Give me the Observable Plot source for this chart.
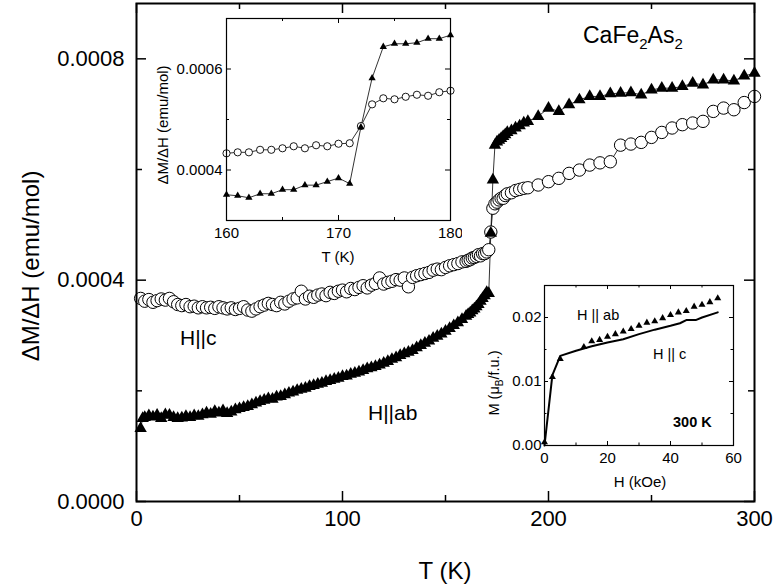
<!DOCTYPE html>
<html><head><meta charset="utf-8">
<script src="https://cdn.jsdelivr.net/npm/d3@7"></script>
<script src="https://cdn.jsdelivr.net/npm/@observablehq/plot@0.6"></script>
<style>body{margin:0;background:white} #chart{position:relative;width:776px;height:586px;overflow:hidden} #chart > svg{position:absolute;max-width:none}</style>
</head><body><div id="chart"></div>
<script>
// ---- Main panel data: [T (K), ΔM/ΔH in units of 1e-4 emu/mol] ----
const mainHc = [
[2,3.67],[4,3.62],[6,3.65],[8,3.60],[10,3.63],[12,3.66],[14,3.64],[16,3.67],[18,3.61],[20,3.56],
[22,3.54],[24,3.56],[26,3.52],[28,3.53],[30,3.50],[32,3.52],[34,3.50],[36,3.51],[38,3.49],[40,3.52],
[42,3.50],[44,3.48],[46,3.50],[48,3.47],[50,3.49],[52,3.52],[54,3.46],[56,3.44],[58,3.48],[60,3.52],
[62,3.55],[64,3.58],[66,3.56],[68,3.54],[70,3.60],[72,3.57],[74,3.62],[76,3.66],[78,3.68],[80,3.80],
[82,3.66],[84,3.71],[86,3.69],[88,3.73],[90,3.75],[92,3.72],[94,3.78],[96,3.76],[98,3.80],[100,3.82],
[102,3.79],[104,3.85],[106,3.83],[108,3.87],[110,3.90],[112,3.86],[114,3.91],[116,3.94],[118,4.04],[120,3.93],
[122,3.96],[124,3.98],[126,4.01],[128,4.00],[130,4.04],[132,3.88],[134,4.05],[136,4.08],[138,4.10],[140,4.12],
[142,4.14],[144,4.18],[146,4.20],[148,4.19],[150,4.23],[152,4.26],[154,4.28],[156,4.30],[158,4.33],[160,4.34],
[161,4.36],[162,4.37],[163,4.40],[164,4.41],[165,4.43],[166,4.46],[167,4.44],[168,4.48],[169,4.48],[170,4.51],
[171,4.55],[172,4.87],[173,5.30],[174,5.38],[175,5.41],[176,5.45],[177,5.48],[178,5.48],[179,5.53],[180,5.56],
[182,5.58],[184,5.62],[186,5.64],[188,5.66],[190,5.67],[195,5.72],[200,5.78],[205,5.84],[210,5.93],[215,5.99],
[220,6.08],[225,6.12],[230,6.14],[235,6.44],[240,6.46],[245,6.49],[250,6.58],[255,6.67],[260,6.75],[265,6.81],
[270,6.84],[275,6.87],[280,7.05],[285,7.11],[290,7.08],[295,7.21],[300,7.32]
];
const mainHab = [
[2,1.32],[3,1.50],[4,1.52],[6,1.55],[8,1.53],[10,1.56],[12,1.50],[14,1.57],[16,1.56],[18,1.52],
[20,1.50],[22,1.51],[24,1.54],[26,1.52],[28,1.55],[30,1.54],[32,1.57],[34,1.60],[36,1.58],[38,1.63],
[40,1.60],[42,1.64],[44,1.59],[46,1.62],[48,1.66],[50,1.68],[52,1.70],[54,1.72],[56,1.75],[58,1.78],
[60,1.81],[62,1.83],[64,1.86],[66,1.85],[68,1.89],[70,1.90],[72,1.93],[74,1.96],[76,1.98],[78,2.01],
[80,2.03],[82,2.05],[84,2.08],[86,2.10],[88,2.12],[90,2.14],[92,2.17],[94,2.19],[96,2.21],[98,2.23],
[100,2.26],[102,2.27],[104,2.30],[106,2.32],[108,2.34],[110,2.37],[112,2.40],[114,2.42],[116,2.44],[118,2.47],
[120,2.50],[122,2.53],[124,2.57],[126,2.60],[128,2.64],[130,2.67],[132,2.70],[134,2.73],[136,2.78],[138,2.82],
[140,2.86],[142,2.90],[144,2.95],[146,2.99],[148,3.03],[150,3.08],[152,3.13],[154,3.18],[156,3.23],[158,3.29],
[160,3.35],[161,3.38],[162,3.41],[163,3.45],[164,3.48],[165,3.52],[166,3.56],[167,3.62],[168,3.67],[169,3.72],
[170,3.78],[171,3.76],[172,4.85],[173,5.81],[174,6.44],[175,6.50],[176,6.53],[177,6.56],[178,6.60],[179,6.63],
[180,6.67],[182,6.70],[184,6.75],[186,6.79],[188,6.84],[190,6.87],[195,6.96],[200,7.11],[205,7.05],[210,7.17],
[215,7.26],[220,7.32],[225,7.32],[230,7.37],[235,7.38],[240,7.39],[245,7.35],[250,7.44],[255,7.47],[260,7.47],
[265,7.50],[270,7.56],[275,7.53],[280,7.62],[285,7.62],[290,7.60],[295,7.69],[300,7.74]
];
// ---- Inset 1 (160–180 K), units of 1e-4 emu/mol ----
const insetT = [160,161,162,163,164,165,166,167,168,169,170,171,172,173,174,175,176,177,178,179,180];
const insetHc = [4.33,4.35,4.35,4.40,4.40,4.43,4.47,4.43,4.49,4.47,4.52,4.53,4.87,5.30,5.42,5.40,5.45,5.49,5.47,5.54,5.57];
const insetHab = [3.51,3.49,3.45,3.53,3.53,3.61,3.61,3.70,3.70,3.77,3.84,3.73,4.85,5.82,6.44,6.50,6.50,6.52,6.60,6.60,6.67];
// ---- Inset 2: M(H) at 300 K ----
const mhH_ab = [0,2.5,5,12.5,15,17.5,20,22.5,25,27.5,30,32.5,35,37.5,40,42.5,45,47.5,50,52.5,55];
const mhM_ab = [0.0005,0.0107,0.0135,0.0154,0.0163,0.0165,0.0170,0.0174,0.0178,0.0182,0.0187,0.0192,0.0194,0.0199,0.0204,0.0208,0.0210,0.0217,0.0220,0.0224,0.0230];
const mhH_c = [0,2.5,5,10,15,20,25,30,35,40,43,45,48,50,55];
const mhM_c = [0,0.0110,0.0140,0.0148,0.0155,0.0161,0.0166,0.0174,0.0181,0.0187,0.0191,0.0196,0.0196,0.0200,0.0208];
// ---- tick values ----
const mainXMajor = [0,100,200,300], mainXMinor = [50,150,250];
const mainYMajor = [0,0.0004,0.0008], mainYMinor = [0.0002,0.0006];
const in1XMajor = [160,170,180], in1XMinor = [165,175];
const in1YMajor = [0.0004,0.0006], in1YMinor = [0.0003,0.0005,0.0007];
const in2XMajor = [0,20,40,60], in2XMinor = [10,30,50];
const in2YMajor = [0,0.01,0.02], in2YMinor = [0.005,0.015];

const FONT = "Arial, 'Liberation Sans', sans-serif";
const toRows = (arr) => arr.map(([T, v]) => ({T, v: v * 1e-4}));
const hcRows = toRows(mainHc), habRows = toRows(mainHab);
const in1c = insetT.map((T, i) => ({T, v: insetHc[i] * 1e-4}));
const in1ab = insetT.map((T, i) => ({T, v: insetHab[i] * 1e-4}));
const mhAb = mhH_ab.map((H, i) => ({H, M: mhM_ab[i]}));
const mhC = mhH_c.map((H, i) => ({H, M: mhM_c[i]}));

function boxTicks(xMaj, xMin, yMaj, yMin, iw, ih, Lmaj, Lmin, sw) {
  const s = {stroke: "black", strokeWidth: sw};
  return [
    Plot.ruleX(xMaj, {...s, insetTop: ih - Lmaj}), Plot.ruleX(xMaj, {...s, insetBottom: ih - Lmaj}),
    Plot.ruleX(xMin, {...s, insetTop: ih - Lmin}), Plot.ruleX(xMin, {...s, insetBottom: ih - Lmin}),
    Plot.ruleY(yMaj, {...s, insetRight: iw - Lmaj}), Plot.ruleY(yMaj, {...s, insetLeft: iw - Lmaj}),
    Plot.ruleY(yMin, {...s, insetRight: iw - Lmin}), Plot.ruleY(yMin, {...s, insetLeft: iw - Lmin})
  ];
}

// ---- Main plot ----
const W = 776, H = 586, mL = 136, mR = 22, mT = 3, mB = 85;
const main = Plot.plot({
  width: W, height: H, marginLeft: mL, marginRight: mR, marginTop: mT, marginBottom: mB,
  style: {fontFamily: FONT, fontSize: "22px", background: "white", color: "black"},
  x: {domain: [0, 300]},
  y: {domain: [0, 0.0009]},
  marks: [
    Plot.line(hcRows, {x: "T", y: "v", stroke: "black", strokeWidth: 0.8}),
    Plot.line(habRows, {x: "T", y: "v", stroke: "black", strokeWidth: 0.8}),
    Plot.dot(hcRows, {x: "T", y: "v", r: 6.2, fill: "white", stroke: "black", strokeWidth: 1}),
    Plot.dot(habRows, {x: "T", y: "v", symbol: "triangle", r: 4.6, fill: "black"}),
    ...boxTicks(mainXMajor, mainXMinor, mainYMajor, mainYMinor, W - mL - mR, H - mT - mB, 10, 6, 1.5),
    Plot.frame({stroke: "black", strokeWidth: 2}),
    Plot.axisX({ticks: mainXMajor, tickSize: 0, tickPadding: 9, label: null}),
    Plot.axisY({ticks: mainYMajor, tickSize: 0, tickPadding: 12, tickFormat: d => d.toFixed(4), label: null})
  ]
});

// ---- Inset 1 ----
const i1 = {x: 146, y: 8, w: 316, h: 262, l: 80, r: 12, t: 10, b: 50};
const inset1 = Plot.plot({
  width: i1.w, height: i1.h, marginLeft: i1.l, marginRight: i1.r, marginTop: i1.t, marginBottom: i1.b,
  style: {fontFamily: FONT, fontSize: "15px", background: "transparent", color: "black"},
  x: {domain: [160, 180]},
  y: {domain: [0.0003, 0.0007]},
  marks: [
    Plot.frame({fill: "white"}),
    Plot.line(in1c, {x: "T", y: "v", stroke: "black", strokeWidth: 0.8}),
    Plot.line(in1ab, {x: "T", y: "v", stroke: "black", strokeWidth: 0.8}),
    Plot.dot(in1c, {x: "T", y: "v", r: 3.6, fill: "white", stroke: "black", strokeWidth: 0.9}),
    Plot.dot(in1ab, {x: "T", y: "v", symbol: "triangle", r: 2.7, fill: "black"}),
    ...boxTicks(in1XMajor, in1XMinor, in1YMajor, in1YMinor, i1.w - i1.l - i1.r, i1.h - i1.t - i1.b, 5, 3, 1),
    Plot.frame({stroke: "black", strokeWidth: 1.2}),
    Plot.axisX({ticks: in1XMajor, tickSize: 0, tickPadding: 7, label: null}),
    Plot.axisY({ticks: in1YMajor, tickSize: 0, tickPadding: 4, tickFormat: d => d.toFixed(4), label: null})
  ]
});

// ---- Inset 2 ----
const i2 = {x: 474, y: 275, w: 271, h: 220, l: 70, r: 12, t: 10, b: 50};
const inset2 = Plot.plot({
  width: i2.w, height: i2.h, marginLeft: i2.l, marginRight: i2.r, marginTop: i2.t, marginBottom: i2.b,
  style: {fontFamily: FONT, fontSize: "15px", background: "transparent", color: "black"},
  x: {domain: [0, 60]},
  y: {domain: [0, 0.025]},
  marks: [
    Plot.frame({fill: "white"}),
    Plot.line(mhC, {x: "H", y: "M", stroke: "black", strokeWidth: 2}),
    Plot.dot(mhAb, {x: "H", y: "M", symbol: "triangle", r: 2.6, fill: "black"}),
    ...boxTicks(in2XMajor, in2XMinor, in2YMajor, in2YMinor, i2.w - i2.l - i2.r, i2.h - i2.t - i2.b, 4, 2.5, 1),
    Plot.frame({stroke: "black", strokeWidth: 1.2}),
    Plot.axisX({ticks: in2XMajor, tickSize: 0, tickPadding: 7, label: null}),
    Plot.axisY({ticks: in2YMajor, tickSize: 0, tickPadding: 3, tickFormat: d => d.toFixed(2), label: null})
  ]
});

const chart = document.getElementById("chart");
function place(el, x, y) {
  el.style.position = "absolute"; el.style.left = x + "px"; el.style.top = y + "px";
  el.style.background = el === main ? "white" : "transparent";
  chart.appendChild(el);
}
place(main, 0, 0);
place(inset1, i1.x, i1.y);
place(inset2, i2.x, i2.y);

// ---- Text overlay ----
const overlay = d3.create("svg").attr("width", W).attr("height", H)
  .style("position", "absolute").style("left", "0px").style("top", "0px").style("pointer-events", "none");
const g = overlay.append("g").attr("font-family", FONT).attr("fill", "black").attr("text-anchor", "start");
function txt(x, y, s, size, opts = {}) {
  const t = g.append("text").attr("x", x).attr("y", y).attr("font-size", size)
    .attr("text-anchor", opts.anchor || "start").text(s);
  if (opts.bold) t.attr("font-weight", "bold");
  return t;
}
function vtxt(cx, cy, size) {
  return g.append("text").attr("transform", `translate(${cx},${cy}) rotate(-90)`)
    .attr("text-anchor", "middle").attr("dy", "0.35em").attr("font-size", size);
}
vtxt(31, 266, 24).text("ΔM/ΔH (emu/mol)");
txt(445, 579, "T (K)", 24, {anchor: "middle"});
const ca = g.append("text").attr("x", 583).attr("y", 43).attr("font-size", 23);
ca.append("tspan").text("CaFe");
ca.append("tspan").attr("dy", 6).attr("font-size", 15).text("2");
ca.append("tspan").attr("dy", -6).text("As");
ca.append("tspan").attr("dy", 6).attr("font-size", 15).text("2");
txt(180, 345, "H||c", 21);
txt(368, 420, "H||ab", 21);
// inset 1 labels
vtxt(163, 125, 15).text("ΔM/ΔH (emu/mol)");
txt(338, 262, "T (K)", 15, {anchor: "middle"});
// inset 2 labels
const my = vtxt(494, 383, 14.5);
my.append("tspan").text("M (μ");
my.append("tspan").attr("dy", 4).attr("font-size", 10).text("B");
my.append("tspan").attr("dy", -4).text("/f.u.)");
txt(640, 487, "H (kOe)", 15, {anchor: "middle"});
txt(577, 320, "H || ab", 14.5);
txt(653, 359, "H || c", 14.5);
txt(673, 427, "300 K", 14.5, {bold: true});
chart.appendChild(overlay.node());
</script></body></html>
